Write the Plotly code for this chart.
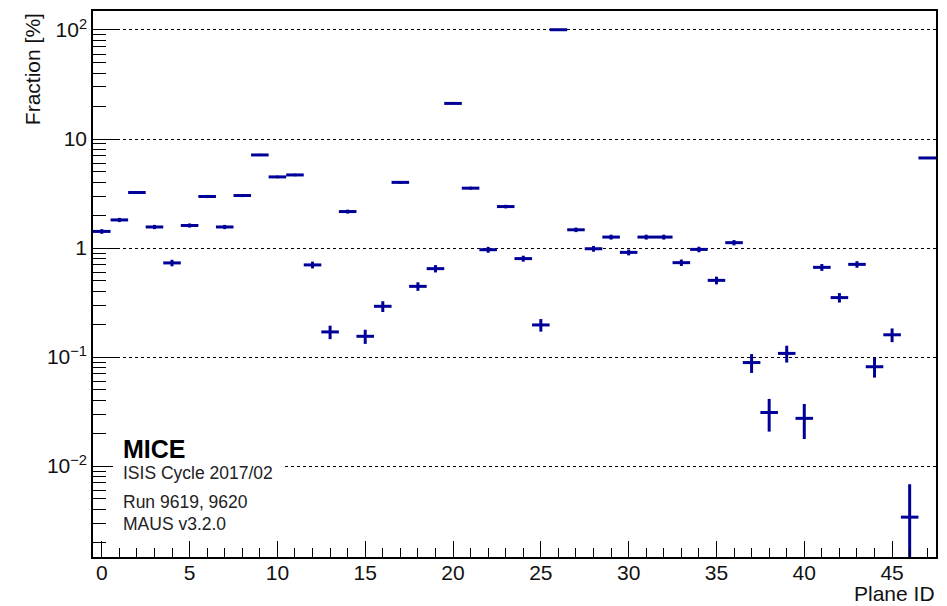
import plotly.graph_objects as go

# ---------------- data ----------------
plane_id = list(range(48))
fraction = [1.42, 1.81, 3.23, 1.56, 0.73, 1.61, 2.97, 1.56, 3.03, 7.14,
            4.49, 4.68, 0.70, 0.170, 2.16, 0.155, 0.292, 4.00, 0.445, 0.647,
            21.2, 3.54, 0.965, 2.40, 0.80, 0.197, 100.5, 1.47, 0.985, 1.26,
            0.912, 1.26, 1.26, 0.734, 0.971, 0.505, 1.12, 0.089, 0.031, 0.108,
            0.0274, 0.665, 0.351, 0.708, 0.0815, 0.160, 0.0034, 6.70]
err_up = [0.07, 0.08, 0.10, 0.07, 0.05, 0.07, 0.10, 0.07, 0.10, 0.16,
          0.12, 0.13, 0.05, 0.024, 0.09, 0.023, 0.033, 0.12, 0.04, 0.05,
          0.27, 0.11, 0.06, 0.09, 0.05, 0.026, 0.58, 0.07, 0.06, 0.065,
          0.056, 0.065, 0.065, 0.05, 0.057, 0.041, 0.062, 0.0175, 0.0103, 0.019,
          0.0097, 0.048, 0.035, 0.049, 0.0167, 0.023, 0.0034, 0.15]
err_down = [0.07, 0.08, 0.10, 0.07, 0.05, 0.07, 0.10, 0.07, 0.10, 0.16,
            0.12, 0.13, 0.05, 0.024, 0.09, 0.023, 0.033, 0.12, 0.04, 0.05,
            0.27, 0.11, 0.06, 0.09, 0.05, 0.026, 0.58, 0.07, 0.06, 0.065,
            0.056, 0.065, 0.065, 0.05, 0.057, 0.041, 0.062, 0.0175, 0.0103, 0.019,
            0.0097, 0.048, 0.035, 0.049, 0.0167, 0.023, 0.0034, 0.15]
bin_half_width = 0.5

x_tickvals = [0, 5, 10, 15, 20, 25, 30, 35, 40, 45]
y_tickvals = [0.01, 0.1, 1, 10, 100]
y_ticktext = ["10<sup>\u22122</sup>", "10<sup>\u22121</sup>", "1", "10", "10<sup>2</sup>"]
y_minor = [k * 10.0 ** d for d in range(-3, 3) for k in range(2, 10)
           if 0.00147 < k * 10.0 ** d < 149]

info_lines = ["ISIS Cycle 2017/02", "Run 9619, 9620", "MAUS v3.2.0"]

# ---------------- layout geometry ----------------
W, H = 947, 606
L, R, T, B = 93, 938, 10, 557
BLUE = "#000099"
FONT = "Liberation Sans, Arial, sans-serif"


def px_x(px):
    return (px - L) / (R - L)


def px_y(py):
    return (B - py) / (B - T)


fig = go.Figure()
fig.add_trace(go.Scatter(
    x=plane_id, y=fraction, mode="markers",
    marker=dict(size=0, color="rgba(0,0,0,0)", line=dict(width=0)),
    error_x=dict(type="constant", value=bin_half_width, thickness=3, width=0, color=BLUE),
    error_y=dict(type="data", array=err_up, arrayminus=err_down, symmetric=False,
                 thickness=3, width=0, color=BLUE),
    showlegend=False, hoverinfo="skip",
))

fig.update_layout(
    width=W, height=H,
    margin=dict(l=L, r=W - R, t=T, b=H - B),
    paper_bgcolor="white", plot_bgcolor="white",
    font=dict(family=FONT, size=21, color="#111"),
    xaxis=dict(
        range=[-0.5, 47.5], tickmode="array", tickvals=x_tickvals,
        ticks="inside", ticklen=16, tickwidth=1.2, tickcolor="black",
        minor=dict(dtick=1, tick0=0, ticks="inside", ticklen=9, tickwidth=1.2, tickcolor="black", showgrid=False),
        showline=True, linecolor="black", linewidth=1.5, mirror=True,
        showgrid=False, zeroline=False, ticklabelstandoff=-4,
        tickfont=dict(size=21, family=FONT, color="#111"),
    ),
    yaxis=dict(
        type="log", range=[-2.834, 2.174],
        tickmode="array", tickvals=y_tickvals, ticktext=y_ticktext,
        ticks="inside", ticklen=26, tickwidth=1.2, tickcolor="black",
        minor=dict(tickmode="array", tickvals=y_minor, ticks="inside", ticklen=13,
                   tickwidth=1.2, tickcolor="black", showgrid=False),
        showline=True, linecolor="black", linewidth=1.5, mirror=True,
        showgrid=True, gridcolor="black", gridwidth=1, griddash="dot",
        zeroline=False,
        tickfont=dict(size=21, family=FONT, color="#111"),
    ),
)

# white pave behind the info text
fig.add_shape(type="rect", xref="paper", yref="paper",
              x0=px_x(113), x1=px_x(283), y0=px_y(540), y1=px_y(430),
              fillcolor="white", line=dict(width=0), layer="above")

annos = [
    dict(text="Fraction [%]", x=px_x(32), y=1.0, xanchor="center", yanchor="top",
         textangle=-90, font=dict(size=21)),
    dict(text="Plane ID", x=1.0, y=px_y(594), xanchor="right", yanchor="middle",
         font=dict(size=21), borderpad=0),
    dict(text="<b>MICE</b>", x=px_x(121), y=px_y(449), xanchor="left", yanchor="middle",
         font=dict(size=25, color="black")),
]
info_y = [473, 502, 524]
for txt, yy in zip(info_lines, info_y):
    annos.append(dict(text=txt, x=px_x(121), y=px_y(yy), xanchor="left", yanchor="middle",
                      font=dict(size=17.5, color="#222")))
for a in annos:
    a.update(xref="paper", yref="paper", showarrow=False)
    a.setdefault("font", {})
    a["font"].setdefault("family", FONT)
    a["font"].setdefault("color", "#111")
fig.update_layout(annotations=annos)

fig.write_html("out.html")
